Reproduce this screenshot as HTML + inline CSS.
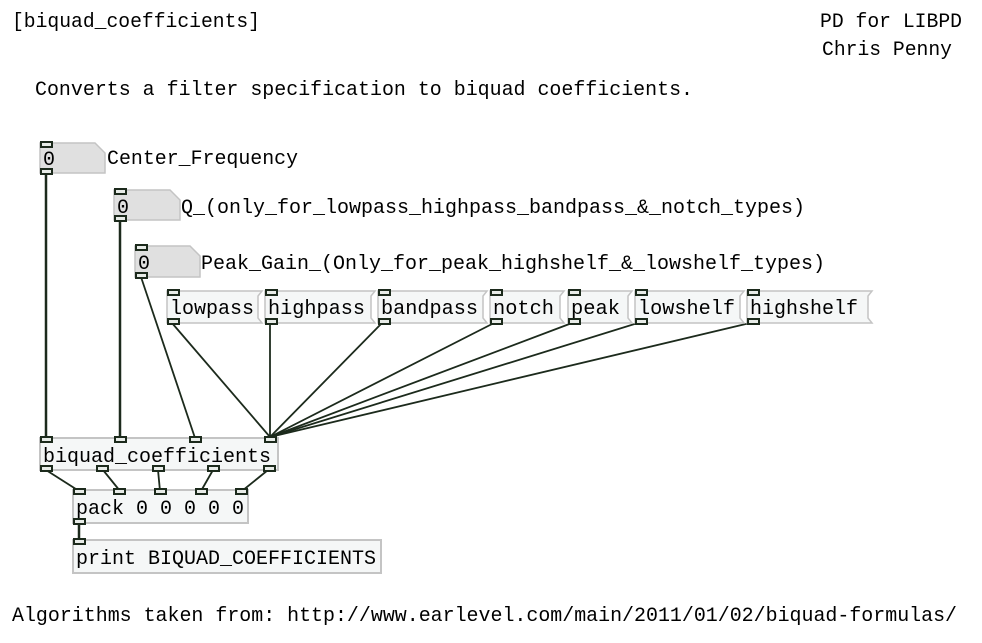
<!DOCTYPE html>
<html><head><meta charset="utf-8"><style>
html,body{margin:0;padding:0;background:#fff;}
svg{display:block;}
text{font-family:"Liberation Mono","DejaVu Sans Mono",monospace;font-size:20px;fill:#000;}
</style></head><body>
<svg width="982" height="643" viewBox="0 0 982 643" xmlns="http://www.w3.org/2000/svg">
<text x="12" y="27" textLength="248" lengthAdjust="spacingAndGlyphs">[biquad_coefficients]</text>
<text x="820" y="27" textLength="142" lengthAdjust="spacingAndGlyphs">PD for LIBPD</text>
<text x="822" y="55" textLength="130" lengthAdjust="spacingAndGlyphs">Chris Penny</text>
<text x="35" y="95" textLength="658" lengthAdjust="spacingAndGlyphs">Converts a filter specification to biquad coefficients.</text>
<text x="12" y="621" textLength="945" lengthAdjust="spacingAndGlyphs">Algorithms taken from: http://www.earlevel.com/main/2011/01/02/biquad-formulas/</text>

<g stroke="#1c2a1c" fill="none">
<line x1="46" y1="173" x2="46" y2="438" stroke-width="2.5"/>
<line x1="120" y1="220" x2="120" y2="438" stroke-width="2.5"/>
<line x1="141" y1="277" x2="195" y2="438" stroke-width="1.8"/>
<g stroke-width="1.8">
<line x1="172" y1="323" x2="270" y2="437"/>
<line x1="270" y1="323" x2="270" y2="437"/>
<line x1="382" y1="323" x2="270" y2="437"/>
<line x1="494" y1="323" x2="270" y2="437"/>
<line x1="572" y1="323" x2="270" y2="437"/>
<line x1="638" y1="323" x2="270" y2="437"/>
<line x1="750" y1="323" x2="270" y2="437"/>
<line x1="46" y1="470" x2="79" y2="491"/>
<line x1="103" y1="470" x2="120" y2="491"/>
<line x1="158" y1="470" x2="160" y2="491"/>
<line x1="213" y1="470" x2="201" y2="491"/>
<line x1="268" y1="470" x2="242" y2="491"/>
</g>
<line x1="79" y1="523" x2="79" y2="541" stroke-width="2.5"/>
</g>

<g fill="#e0e0e0" stroke="#c4c4c4" stroke-width="1.5">
<polygon points="40,143 95,143 105,153 105,173 40,173"/>
<polygon points="114,190 170,190 180,200 180,220 114,220"/>
<polygon points="135,246 190,246 200,256 200,277 135,277"/>
</g>
<text x="43" y="165">0</text>
<text x="117" y="213">0</text>
<text x="138" y="269">0</text>
<text x="107" y="164" textLength="191" lengthAdjust="spacingAndGlyphs">Center_Frequency</text>
<text x="181" y="213" textLength="624" lengthAdjust="spacingAndGlyphs">Q_(only_for_lowpass_highpass_bandpass_&amp;_notch_types)</text>
<text x="201" y="269" textLength="624" lengthAdjust="spacingAndGlyphs">Peak_Gain_(Only_for_peak_highshelf_&amp;_lowshelf_types)</text>

<g fill="#f5f7f7" stroke="#c4c4c4" stroke-width="1.5">
<polygon points="167,291 262,291 258,296 258,318 262,323 167,323"/>
<polygon points="265,291 375,291 371,296 371,318 375,323 265,323"/>
<polygon points="378,291 487,291 483,296 483,318 487,323 378,323"/>
<polygon points="490,291 564,291 560,296 560,318 564,323 490,323"/>
<polygon points="568,291 632,291 628,296 628,318 632,323 568,323"/>
<polygon points="635,291 744,291 740,296 740,318 744,323 635,323"/>
<polygon points="747,291 872,291 868,296 868,318 872,323 747,323"/>
</g>
<text x="170" y="314" textLength="84" lengthAdjust="spacingAndGlyphs">lowpass</text>
<text x="268" y="314" textLength="97" lengthAdjust="spacingAndGlyphs">highpass</text>
<text x="381" y="314" textLength="97" lengthAdjust="spacingAndGlyphs">bandpass</text>
<text x="493" y="314" textLength="61" lengthAdjust="spacingAndGlyphs">notch</text>
<text x="571" y="314" textLength="49" lengthAdjust="spacingAndGlyphs">peak</text>
<text x="638" y="314" textLength="97" lengthAdjust="spacingAndGlyphs">lowshelf</text>
<text x="750" y="314" textLength="108" lengthAdjust="spacingAndGlyphs">highshelf</text>

<g fill="#f5f7f7" stroke="#c4c4c4" stroke-width="2">
<rect x="40" y="438" width="238" height="32"/>
<rect x="73" y="490" width="175" height="33"/>
<rect x="73" y="540" width="308" height="33"/>
</g>
<text x="43" y="462" textLength="228" lengthAdjust="spacingAndGlyphs">biquad_coefficients</text>
<text x="76" y="514" textLength="168" lengthAdjust="spacingAndGlyphs">pack 0 0 0 0 0</text>
<text x="76" y="564" textLength="300" lengthAdjust="spacingAndGlyphs">print BIQUAD_COEFFICIENTS</text>

<g fill="#e8ece8" stroke="#1c2a1c" stroke-width="2">
<rect x="41" y="142" width="11" height="5"/><rect x="41" y="169" width="11" height="5"/>
<rect x="115" y="189" width="11" height="5"/><rect x="115" y="216" width="11" height="5"/>
<rect x="136" y="245" width="11" height="5"/><rect x="136" y="273" width="11" height="5"/>
<rect x="168" y="290" width="11" height="5"/><rect x="168" y="319" width="11" height="5"/>
<rect x="266" y="290" width="11" height="5"/><rect x="266" y="319" width="11" height="5"/>
<rect x="379" y="290" width="11" height="5"/><rect x="379" y="319" width="11" height="5"/>
<rect x="491" y="290" width="11" height="5"/><rect x="491" y="319" width="11" height="5"/>
<rect x="569" y="290" width="11" height="5"/><rect x="569" y="319" width="11" height="5"/>
<rect x="636" y="290" width="11" height="5"/><rect x="636" y="319" width="11" height="5"/>
<rect x="748" y="290" width="11" height="5"/><rect x="748" y="319" width="11" height="5"/>
<rect x="41" y="437" width="11" height="5"/><rect x="115" y="437" width="11" height="5"/>
<rect x="190" y="437" width="11" height="5"/><rect x="265" y="437" width="11" height="5"/>
<rect x="41" y="466" width="11" height="5"/><rect x="97" y="466" width="11" height="5"/>
<rect x="153" y="466" width="11" height="5"/><rect x="208" y="466" width="11" height="5"/>
<rect x="264" y="466" width="11" height="5"/>
<rect x="74" y="489" width="11" height="5"/><rect x="114" y="489" width="11" height="5"/>
<rect x="155" y="489" width="11" height="5"/><rect x="196" y="489" width="11" height="5"/>
<rect x="236" y="489" width="11" height="5"/>
<rect x="74" y="519" width="11" height="5"/>
<rect x="74" y="539" width="11" height="5"/>
</g>
</svg>
</body></html>
